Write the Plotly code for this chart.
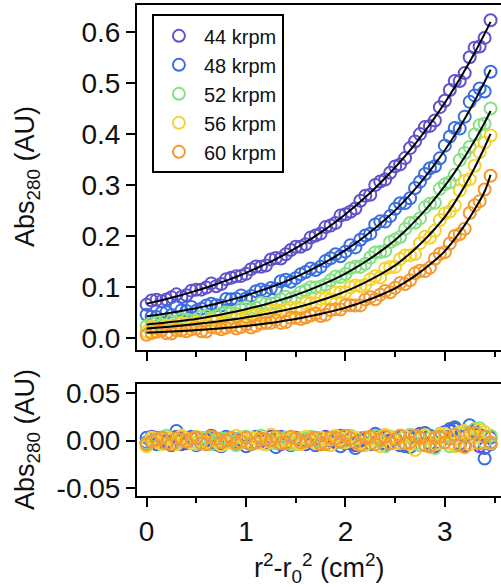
import plotly.graph_objects as go

# ---------------- data ----------------
speeds = ["44 krpm", "48 krpm", "52 krpm", "56 krpm", "60 krpm"]
colors = ["#5f52cc", "#3a6ee0", "#86e086", "#f5d430", "#f49a30"]

# radial positions (r^2 - r0^2, cm^2): main scan points and the interleaved ones
x_pos = [0.0, 0.1, 0.2, 0.3, 0.4, 0.5, 0.6, 0.7, 0.8, 0.9, 1.0, 1.1, 1.2, 1.3, 1.4, 1.5, 1.6, 1.7,
         1.8, 1.9, 2.0, 2.1, 2.2, 2.3, 2.4, 2.5, 2.6, 2.7, 2.8, 2.9, 3.0, 3.1, 3.2, 3.3, 3.4, 3.46]
x_mid = [0.05, 0.15, 0.25, 0.35, 0.45, 0.55, 0.65, 0.75, 0.85, 0.95, 1.05, 1.15, 1.25, 1.35, 1.45, 1.55,
         1.65, 1.75, 1.85, 1.95, 2.05, 2.15, 2.25, 2.35, 2.45, 2.55, 2.65, 2.75, 2.85, 2.95, 3.05, 3.15,
         3.25, 3.35]

# fitted curves (black lines), at x_pos
fit44 = [0.0670, 0.0714, 0.0762, 0.0812, 0.0866, 0.0924, 0.0985, 0.1051, 0.1120, 0.1195, 0.1274, 0.1359,
         0.1449, 0.1545, 0.1648, 0.1757, 0.1874, 0.1998, 0.2131, 0.2272, 0.2424, 0.2585, 0.2756, 0.2939,
         0.3135, 0.3343, 0.3565, 0.3802, 0.4054, 0.4324, 0.4612, 0.4918, 0.5244, 0.5593, 0.5964, 0.6200]
fit48 = [0.0420, 0.0448, 0.0478, 0.0510, 0.0544, 0.0580, 0.0623, 0.0669, 0.0719, 0.0773, 0.0830, 0.0892,
         0.0959, 0.1030, 0.1107, 0.1190, 0.1281, 0.1379, 0.1484, 0.1598, 0.1720, 0.1853, 0.1997, 0.2152,
         0.2319, 0.2500, 0.2701, 0.2918, 0.3153, 0.3407, 0.3680, 0.3977, 0.4299, 0.4646, 0.5022, 0.5260]
fit52 = [0.0260, 0.0279, 0.0299, 0.0321, 0.0345, 0.0370, 0.0402, 0.0437, 0.0475, 0.0516, 0.0560, 0.0607,
         0.0659, 0.0714, 0.0775, 0.0840, 0.0911, 0.0988, 0.1072, 0.1162, 0.1260, 0.1371, 0.1491, 0.1622,
         0.1764, 0.1920, 0.2096, 0.2289, 0.2499, 0.2729, 0.2980, 0.3251, 0.3546, 0.3869, 0.4220, 0.4450]
fit56 = [0.0180, 0.0195, 0.0212, 0.0230, 0.0249, 0.0270, 0.0292, 0.0316, 0.0342, 0.0370, 0.0400, 0.0432,
         0.0467, 0.0505, 0.0546, 0.0590, 0.0643, 0.0702, 0.0765, 0.0835, 0.0910, 0.0995, 0.1087, 0.1188,
         0.1299, 0.1420, 0.1573, 0.1743, 0.1931, 0.2139, 0.2370, 0.2656, 0.2977, 0.3336, 0.3739, 0.4000]
fit60 = [0.0100, 0.0108, 0.0118, 0.0128, 0.0138, 0.0150, 0.0163, 0.0178, 0.0194, 0.0211, 0.0230, 0.0253,
         0.0278, 0.0306, 0.0337, 0.0370, 0.0406, 0.0446, 0.0489, 0.0537, 0.0590, 0.0652, 0.0720, 0.0795,
         0.0878, 0.0970, 0.1085, 0.1214, 0.1358, 0.1520, 0.1700, 0.1938, 0.2209, 0.2518, 0.2870, 0.3200]

# measured absorbance, at x_pos
data44 = [0.0650, 0.0744, 0.0752, 0.0852, 0.0836, 0.0944, 0.0985, 0.1011, 0.1150, 0.1205, 0.1254, 0.1399,
          0.1419, 0.1565, 0.1638, 0.1787, 0.1834, 0.2008, 0.2171, 0.2252, 0.2424, 0.2535, 0.2786, 0.2999,
          0.3105, 0.3363, 0.3525, 0.3852, 0.4134, 0.4264, 0.4652, 0.5038, 0.5194, 0.5693, 0.5884, 0.6230]
data48 = [0.0450, 0.0408, 0.0498, 0.0610, 0.0524, 0.0530, 0.0633, 0.0639, 0.0759, 0.0763, 0.0770, 0.0912,
          0.0919, 0.0960, 0.1137, 0.1170, 0.1291, 0.1329, 0.1504, 0.1638, 0.1690, 0.1773, 0.2007, 0.2222,
          0.2279, 0.2530, 0.2641, 0.2938, 0.3213, 0.3367, 0.3770, 0.4117, 0.4339, 0.4756, 0.4832, 0.5220]
data52 = [0.0230, 0.0299, 0.0349, 0.0301, 0.0355, 0.0330, 0.0432, 0.0427, 0.0495, 0.0466, 0.0600, 0.0587,
          0.0669, 0.0684, 0.0805, 0.0800, 0.0931, 0.0988, 0.1042, 0.1202, 0.1250, 0.1391, 0.1451, 0.1672,
          0.1704, 0.1930, 0.2136, 0.2259, 0.2559, 0.2649, 0.3010, 0.3201, 0.3626, 0.3989, 0.4200, 0.4500]
data56 = [0.0120, 0.0185, 0.0242, 0.0190, 0.0269, 0.0310, 0.0272, 0.0326, 0.0312, 0.0420, 0.0390, 0.0452,
          0.0427, 0.0535, 0.0546, 0.0570, 0.0683, 0.0672, 0.0775, 0.0885, 0.0890, 0.1025, 0.1037, 0.1208,
          0.1359, 0.1390, 0.1613, 0.1643, 0.1981, 0.2099, 0.2440, 0.2596, 0.3077, 0.3376, 0.3829, 0.3970]
data60 = [0.0060, 0.0118, 0.0088, 0.0148, 0.0128, 0.0180, 0.0123, 0.0198, 0.0194, 0.0181, 0.0260, 0.0233,
          0.0288, 0.0346, 0.0307, 0.0390, 0.0396, 0.0476, 0.0449, 0.0557, 0.0640, 0.0632, 0.0750, 0.0755,
          0.0918, 0.0980, 0.1055, 0.1264, 0.1308, 0.1550, 0.1680, 0.1998, 0.2139, 0.2598, 0.2910, 0.3180]

# measured absorbance, at x_mid
data44b = [0.0732, 0.0718, 0.0797, 0.0799, 0.0924, 0.0944, 0.1067, 0.1055, 0.1177, 0.1214, 0.1346, 0.1393,
           0.1536, 0.1556, 0.1722, 0.1785, 0.1965, 0.2044, 0.2201, 0.2397, 0.2473, 0.2689, 0.2806, 0.3065,
           0.3237, 0.3402, 0.3722, 0.3996, 0.4157, 0.4525, 0.4862, 0.5038, 0.5506, 0.5715]
data48b = [0.0414, 0.0493, 0.0444, 0.0537, 0.0602, 0.0571, 0.0666, 0.0633, 0.0755, 0.0831, 0.0820, 0.0945,
           0.0974, 0.1108, 0.1098, 0.1245, 0.1359, 0.1391, 0.1560, 0.1598, 0.1816, 0.1924, 0.2043, 0.2284,
           0.2387, 0.2638, 0.2737, 0.3063, 0.3327, 0.3521, 0.3946, 0.4104, 0.4629, 0.4890]
data52b = [0.0289, 0.0259, 0.0320, 0.0373, 0.0337, 0.0416, 0.0379, 0.0476, 0.0485, 0.0568, 0.0553, 0.0682,
           0.0666, 0.0754, 0.0767, 0.0895, 0.0989, 0.0999, 0.1126, 0.1190, 0.1364, 0.1390, 0.1575, 0.1682,
           0.1880, 0.1976, 0.2250, 0.2342, 0.2632, 0.2922, 0.3053, 0.3486, 0.3744, 0.4171]
data56b = [0.0217, 0.0163, 0.0231, 0.0290, 0.0229, 0.0271, 0.0344, 0.0279, 0.0376, 0.0365, 0.0446, 0.0419,
           0.0546, 0.0515, 0.0588, 0.0576, 0.0682, 0.0763, 0.0749, 0.0892, 0.0991, 0.1010, 0.1146, 0.1182,
           0.1388, 0.1545, 0.1616, 0.1855, 0.1962, 0.2311, 0.2479, 0.2892, 0.3111, 0.3642]
data60b = [0.0094, 0.0143, 0.0083, 0.0143, 0.0164, 0.0127, 0.0210, 0.0166, 0.0232, 0.0210, 0.0201, 0.0285,
           0.0292, 0.0291, 0.0393, 0.0368, 0.0435, 0.0427, 0.0543, 0.0553, 0.0640, 0.0635, 0.0797, 0.0846,
           0.0893, 0.1076, 0.1128, 0.1314, 0.1376, 0.1648, 0.1850, 0.2036, 0.2448, 0.2681]

# residuals, at x_pos
res44 = [-0.002, 0.003, -0.001, 0.004, -0.003, 0.002, 0.000, -0.004, 0.003, 0.001, -0.002, 0.004,
         -0.003, 0.002, -0.001, 0.003, -0.004, 0.001, 0.004, -0.002, 0.000, -0.005, 0.003, 0.006,
         -0.003, 0.002, -0.004, 0.005, 0.008, -0.006, 0.004, 0.012, -0.005, 0.010, -0.008, 0.003]
res48 = [0.003, -0.004, 0.002, 0.010, -0.002, -0.005, 0.001, -0.003, 0.004, -0.001, -0.006, 0.002,
         -0.004, -0.007, 0.003, -0.002, 0.001, -0.005, 0.002, 0.004, -0.003, -0.008, 0.001, 0.007,
         -0.004, 0.003, -0.006, 0.002, 0.006, -0.004, 0.009, 0.014, 0.004, 0.011, -0.019, -0.004]
res52 = [-0.003, 0.002, 0.005, -0.002, 0.001, -0.004, 0.003, -0.001, 0.002, -0.005, 0.004, -0.002,
         0.001, -0.003, 0.003, -0.004, 0.002, 0.000, -0.003, 0.004, -0.001, 0.002, -0.004, 0.005,
         -0.006, 0.001, 0.004, -0.003, 0.006, -0.008, 0.003, -0.005, 0.008, 0.012, -0.002, 0.005]
res56 = [-0.006, -0.001, 0.003, -0.004, 0.002, 0.004, -0.002, 0.001, -0.003, 0.005, -0.001, 0.002,
         -0.004, 0.003, 0.000, -0.002, 0.004, -0.003, 0.001, 0.005, -0.002, 0.003, -0.005, 0.002,
         0.006, -0.003, 0.004, -0.010, 0.005, -0.004, 0.007, -0.006, 0.010, 0.004, 0.009, -0.003]
res60 = [-0.004, 0.001, -0.003, 0.002, -0.001, 0.003, -0.004, 0.002, 0.000, -0.003, 0.003, -0.002,
         0.001, 0.004, -0.003, 0.002, -0.001, 0.003, -0.004, 0.002, 0.005, -0.002, 0.003, -0.004,
         0.004, 0.001, -0.003, 0.005, -0.005, 0.003, -0.002, 0.006, -0.007, 0.008, 0.004, -0.002]

# residuals, at x_mid
res44b = [0.004, -0.002, 0.001, -0.004, 0.003, -0.001, 0.005, -0.003, 0.002, -0.002, 0.003, -0.001,
          0.004, -0.004, 0.002, -0.003, 0.003, -0.002, 0.000, 0.005, -0.003, 0.002, -0.004, 0.003,
          0.000, -0.005, 0.004, 0.007, -0.003, 0.006, 0.010, -0.004, 0.009, -0.006]
res48b = [-0.002, 0.003, -0.005, 0.001, 0.004, -0.003, 0.002, -0.006, 0.001, 0.003, -0.004, 0.002,
          -0.002, 0.004, -0.005, 0.001, 0.003, -0.004, 0.002, -0.006, 0.003, 0.000, -0.003, 0.005,
          -0.002, 0.004, -0.007, 0.003, 0.005, -0.002, 0.012, -0.003, 0.016, 0.006]
res52b = [0.002, -0.003, 0.001, 0.004, -0.002, 0.003, -0.004, 0.002, -0.001, 0.003, -0.003, 0.005,
          -0.002, 0.001, -0.004, 0.002, 0.004, -0.003, 0.001, -0.002, 0.005, -0.004, 0.002, -0.001,
          0.004, -0.003, 0.006, -0.005, 0.002, 0.007, -0.006, 0.009, 0.004, 0.013]
res56b = [0.003, -0.004, 0.001, 0.005, -0.003, -0.001, 0.004, -0.005, 0.002, -0.002, 0.003, -0.003,
          0.006, -0.001, 0.002, -0.004, 0.001, 0.003, -0.005, 0.002, 0.004, -0.003, 0.001, -0.006,
          0.003, 0.005, -0.004, 0.002, -0.007, 0.006, -0.003, 0.008, -0.004, 0.011]
res60b = [-0.001, 0.003, -0.004, 0.001, 0.002, -0.003, 0.004, -0.002, 0.003, -0.001, -0.004, 0.002,
          0.000, -0.003, 0.004, -0.002, 0.001, -0.004, 0.003, -0.001, 0.002, -0.005, 0.004, 0.001,
          -0.003, 0.005, -0.002, 0.003, -0.006, 0.004, 0.002, -0.005, 0.007, -0.003]

top_ticks = [0.0, 0.1, 0.2, 0.3, 0.4, 0.5, 0.6]
top_tick_text = ["0.0", "0.1", "0.2", "0.3", "0.4", "0.5", "0.6"]
res_ticks = [-0.05, 0.0, 0.05]
res_tick_text = ["-0.05", "0.00", "0.05"]
x_ticks = [0, 1, 2, 3]
x_tick_text = ["0", "1", "2", "3"]

fits = [fit44, fit48, fit52, fit56, fit60]
datas = [(data44, data44b), (data48, data48b), (data52, data52b), (data56, data56b), (data60, data60b)]
ress = [(res44, res44b), (res48, res48b), (res52, res52b), (res56, res56b), (res60, res60b)]

# ---------------- figure ----------------
FONT = "Liberation Sans, Arial, sans-serif"
fig = go.Figure()

x_all = x_pos + x_mid
for name, col, (d1, d2) in zip(speeds, colors, datas):
    fig.add_trace(go.Scatter(
        x=x_all, y=d1 + d2, mode="markers", name=name, xaxis="x", yaxis="y",
        marker=dict(symbol="circle-open", size=12, color=col, line=dict(width=2, color=col)),
    ))
for f in fits:
    fig.add_trace(go.Scatter(
        x=x_pos, y=f, mode="lines", showlegend=False, xaxis="x", yaxis="y",
        line=dict(color="black", width=2, shape="spline"), hoverinfo="skip",
    ))
for name, col, (r1, r2) in zip(speeds, colors, ress):
    fig.add_trace(go.Scatter(
        x=x_all, y=r1 + r2, mode="markers", name=name, showlegend=False, xaxis="x2", yaxis="y2",
        marker=dict(symbol="circle-open", size=12, color=col, line=dict(width=2, color=col)),
    ))

XR = [-0.097, 3.565]
axis_common = dict(showline=True, linecolor="black", linewidth=2, showgrid=False, zeroline=False,
                   ticks="outside", tickcolor="black", tickwidth=2,
                   tickfont=dict(family=FONT, size=28, color="#111"))
minor_ticks = dict(dtick=0.5, tick0=0, ticklen=5, ticks="outside", tickcolor="black", tickwidth=2)

fig.update_layout(
    width=501, height=587,
    margin=dict(l=137, r=0, t=5, b=91),
    paper_bgcolor="white", plot_bgcolor="white",
    font=dict(family=FONT, color="#111"),
    showlegend=True,
    legend=dict(x=0.041, y=0.981, xanchor="left", yanchor="top",
                bgcolor="white", bordercolor="black", borderwidth=2,
                font=dict(family=FONT, size=20, color="#111"),
                tracegroupgap=0, itemwidth=40),
    xaxis=dict(axis_common, domain=[0, 1], anchor="y", range=XR, mirror=True,
               tickvals=x_ticks, showticklabels=False, ticklen=9, minor=minor_ticks),
    yaxis=dict(axis_common, domain=[0.2974, 1], anchor="x", range=[-0.024, 0.653],
               tickvals=top_ticks, ticktext=top_tick_text, ticklen=9),
    xaxis2=dict(axis_common, domain=[0, 1], anchor="y2", range=XR, mirror=True,
                tickvals=x_ticks, ticktext=x_tick_text, ticklen=9, minor=minor_ticks),
    yaxis2=dict(axis_common, domain=[0, 0.2281], anchor="x2", range=[-0.0584, 0.0595],
                tickvals=res_ticks, ticktext=res_tick_text, ticklen=9),
    annotations=[
        dict(text="Abs<sub>280</sub> (AU)", x=-0.302, y=0.6497, xref="paper", yref="paper",
             textangle=-90, showarrow=False, xanchor="center", yanchor="middle",
             font=dict(family=FONT, size=27, color="#111")),
        dict(text="Abs<sub>280</sub> (AU)", x=-0.302, y=0.114, xref="paper", yref="paper",
             textangle=-90, showarrow=False, xanchor="center", yanchor="middle",
             font=dict(family=FONT, size=27, color="#111")),
        dict(text="r<sup>2</sup>-r<sub>0</sub><sup>2</sup> (cm<sup>2</sup>)", x=0.5, y=-0.1466,
             xref="paper", yref="paper", showarrow=False, xanchor="center", yanchor="middle",
             font=dict(family=FONT, size=27, color="#111")),
    ],
)

fig.write_html("out.html", config={"displayModeBar": False},
               post_script="document.body.style.margin='0px';document.body.style.overflow='hidden';")
